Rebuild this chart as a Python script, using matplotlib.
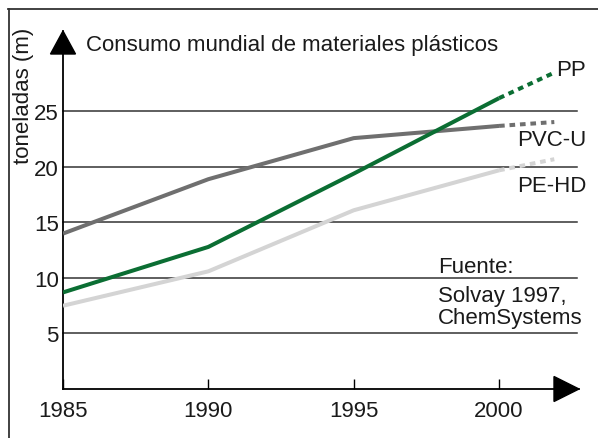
import matplotlib.pyplot as plt
from matplotlib.patches import Polygon

plt.rcParams['font.family'] = ['Liberation Sans', 'DejaVu Sans']
plt.rcParams['text.color'] = '#1a1a1a'
plt.rcParams['xtick.labelcolor'] = '#1a1a1a'
plt.rcParams['ytick.labelcolor'] = '#1a1a1a'

# values (millions of tonnes)
years = [1985, 1990, 1995, 2000]
pp = [8.7, 12.8, 19.4, 26.2]
pvc_u = [14.0, 18.9, 22.6, 23.7]
pe_hd = [7.5, 10.6, 16.1, 19.7]

# dotted forecast stretch after 2000
fc_years = [2000, 2001.9]
pp_fc = [26.2, 28.5]
pvc_u_fc = [23.7, 24.05]
pe_hd_fc = [19.7, 20.7]

grid_vals = [5, 10, 15, 20, 25]
xtick_vals = [1985, 1990, 1995, 2000]

FS = 16
W, H = 598, 439
fig = plt.figure(figsize=(W / 100, H / 100), dpi=100)
# axes from x=63..579 px, y=32..390 px (top-down)
ax = fig.add_axes([63 / W, 49 / H, 516 / W, 358 / H])
ax.set_xlim(1985, 2002.75)
ax.set_ylim(0, 32.25)

# frame round the figure (only left and top visible)
fig.add_artist(plt.Line2D([8.5 / W, 8.5 / W], [0, 429 / H], color='#333333', lw=1.3,
                          transform=fig.transFigure))
fig.add_artist(plt.Line2D([8 / W, 1], [429 / H, 429 / H], color='#333333', lw=1.3,
                          transform=fig.transFigure))

for g in grid_vals:
    ax.plot([1985, 2002.68], [g, g], color='#333333', lw=1.1, zorder=1, clip_on=False)

series = [(pe_hd, pe_hd_fc, '#d4d4d4'), (pvc_u, pvc_u_fc, '#6f6f6f'), (pp, pp_fc, '#0b6e33')]
for vals, fc, col in series:
    ax.plot(years, vals, color=col, lw=2.9, solid_capstyle='butt', zorder=3)
    ax.plot(fc_years, fc, color=col, lw=2.9, linestyle=(0, (1.4, 1.2)),
            dash_capstyle='butt', zorder=3, clip_on=False)

for s in ['top', 'right']:
    ax.spines[s].set_visible(False)
for s in ['left', 'bottom']:
    ax.spines[s].set_linewidth(1.3)
    ax.spines[s].set_color('black')

ax.set_xticks(xtick_vals)
ax.set_xticklabels([str(y) for y in xtick_vals])
ax.set_yticks(grid_vals)
ax.set_yticklabels([str(v) for v in grid_vals])
ax.tick_params(axis='x', direction='in', length=7, width=1, pad=8, labelsize=FS)
ax.tick_params(axis='y', length=0, pad=3, labelsize=FS)
ax.set_facecolor('none')

# arrow heads
ax.add_patch(Polygon([[0, 1], [-12.5 / 516, 1 - 23 / 358], [12.5 / 516, 1 - 23 / 358]],
                     closed=True, color='black', transform=ax.transAxes, clip_on=False))
ax.add_patch(Polygon([[1, 0], [1 - 25 / 516, 12.5 / 358], [1 - 25 / 516, -12.5 / 358]],
                     closed=True, color='black', transform=ax.transAxes, clip_on=False))

fig.text(86 / W, 1 - 45 / H, 'Consumo mundial de materiales plásticos', fontsize=FS,
         ha='left', va='center')
fig.text(23 / W, 1 - 28 / H, 'toneladas (m)', fontsize=FS, rotation=90,
         ha='center', va='top')

ax.text(2003.0, 28.8, 'PP', fontsize=FS, ha='right', va='center', clip_on=False)
ax.text(2003.0, 22.5, 'PVC-U', fontsize=FS, ha='right', va='center', clip_on=False)
ax.text(2003.0, 18.3, 'PE-HD', fontsize=FS, ha='right', va='center', clip_on=False)

ax.text(1997.9, 11.0, 'Fuente:', fontsize=FS, ha='left', va='center')
ax.text(1997.9, 8.45, 'Solvay 1997,', fontsize=FS, ha='left', va='center')
ax.text(1997.9, 6.4, 'ChemSystems', fontsize=FS, ha='left', va='center')

fig.savefig('out.png', dpi=100)
